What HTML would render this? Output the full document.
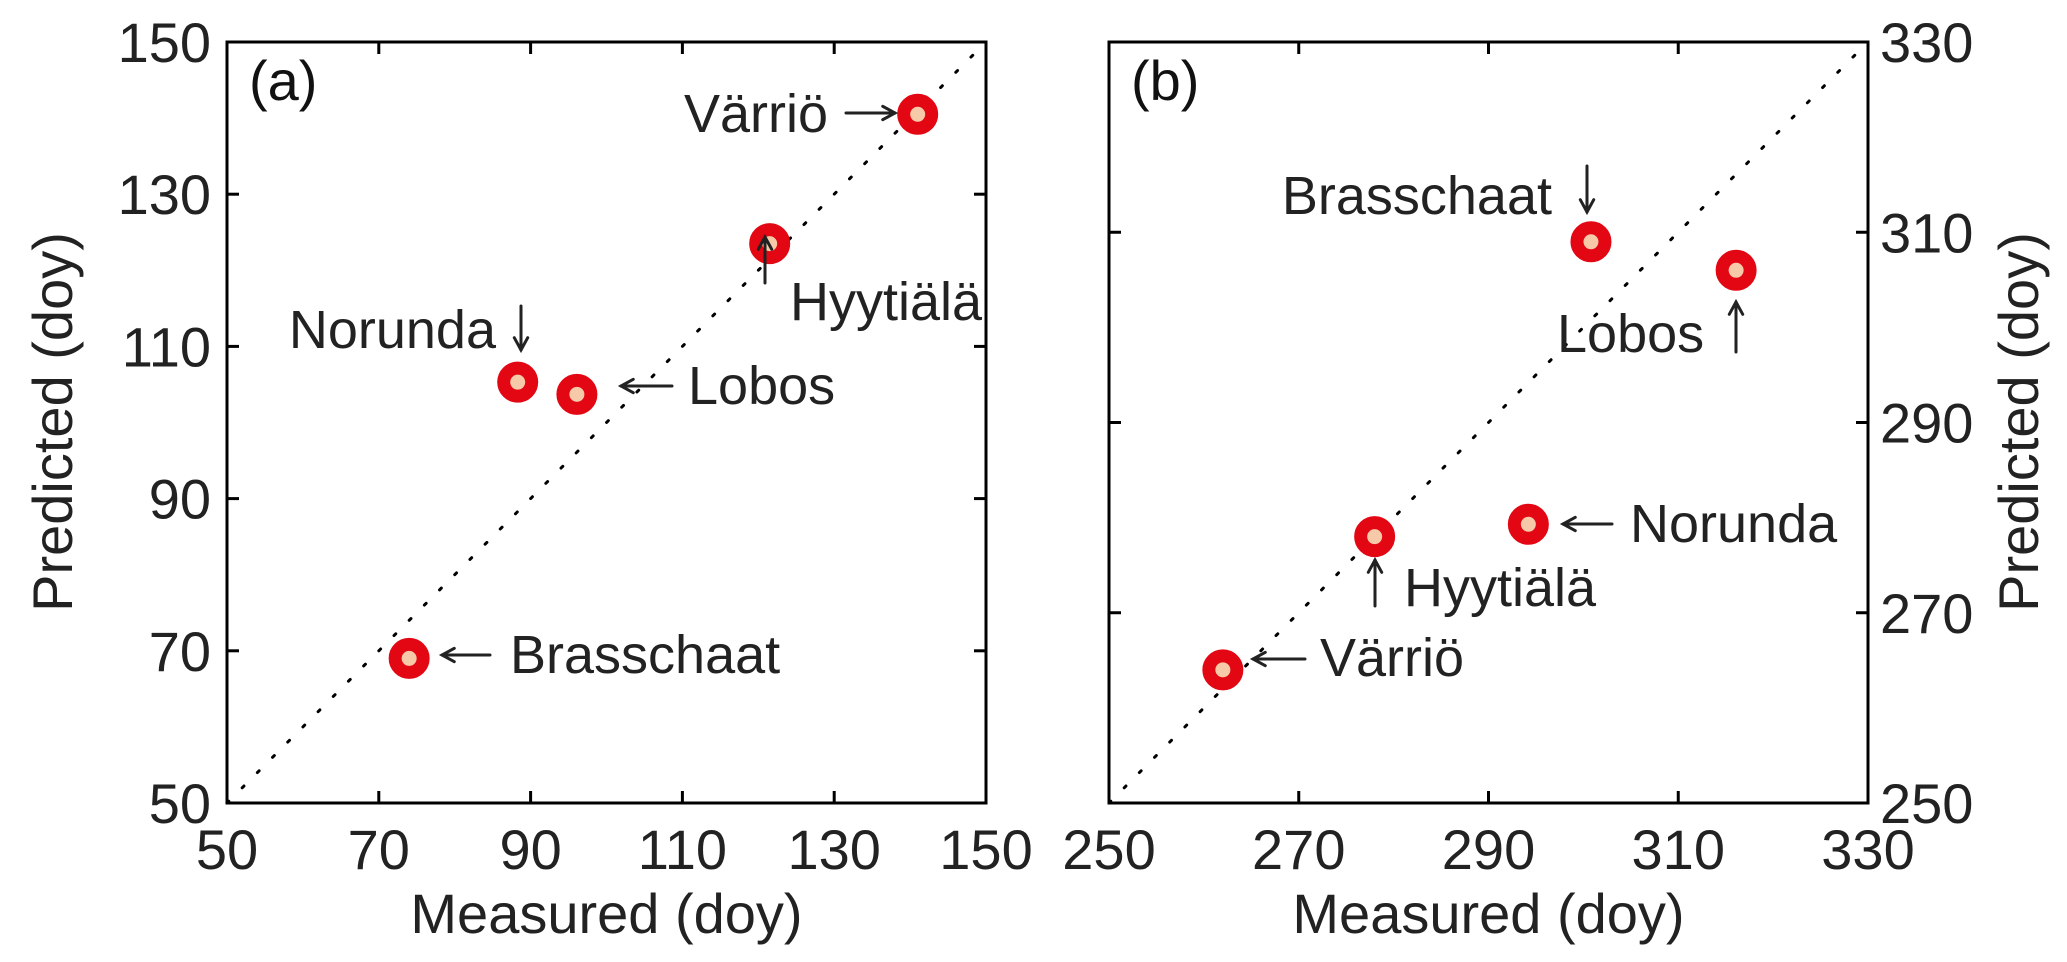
<!DOCTYPE html>
<html><head><meta charset="utf-8"><style>
html,body{margin:0;padding:0;background:#fff;}
svg{display:block;font-family:"Liberation Sans",Arial,sans-serif;}
</style></head><body>
<svg id="chart" width="2067" height="962" viewBox="0 0 2067 962" xmlns="http://www.w3.org/2000/svg"></svg>
<script>
// Panel (a) data
const sitesA = ["Brasschaat","Norunda","Lobos","Hyytiälä","Värriö"];
const measuredA = [74, 88.3, 96.1, 121.5, 141];
const predictedA = [69, 105.3, 103.7, 123.5, 140.5];
const ticksA = [50, 70, 90, 110, 130, 150];
// Panel (b) data
const sitesB = ["Värriö","Hyytiälä","Norunda","Brasschaat","Lobos"];
const measuredB = [262, 278, 294.2, 300.8, 316.1];
const predictedB = [264, 278, 279.3, 309, 306];
const ticksB = [250, 270, 290, 310, 330];

const NS = "http://www.w3.org/2000/svg";
const svg = document.getElementById('chart');
function mk(tag, attrs, parent){ const e=document.createElementNS(NS,tag); for(const k in attrs) e.setAttribute(k,attrs[k]); (parent||svg).appendChild(e); return e; }

function arrow(g, x1, y1, x2, y2){
  const a = mk('g',{stroke:'#222','stroke-width':3,fill:'none','stroke-linecap':'round'},g);
  
  
  mk('line',{x1:x1,y1:y1,x2:x2,y2:y2},a);
  const ang = Math.atan2(y2-y1, x2-x1), L = 14, s = 0.5;
  mk('polyline',{points:`${x2-L*Math.cos(ang-s)},${y2-L*Math.sin(ang-s)} ${x2},${y2} ${x2-L*Math.cos(ang+s)},${y2-L*Math.sin(ang+s)}`},a);
}

function panel(cfg){
  const g = mk('g',{});
  
  
  const X = v => cfg.x0 + (v-cfg.min)/(cfg.max-cfg.min)*(cfg.x1-cfg.x0);
  const Y = v => cfg.y1 - (v-cfg.min)/(cfg.max-cfg.min)*(cfg.y1-cfg.y0);
  const dl = mk('line',{x1:X(cfg.min),y1:Y(cfg.min),x2:X(cfg.max),y2:Y(cfg.max),stroke:'#000','stroke-width':3,'stroke-dasharray':'2.5 19','stroke-linecap':'round'},g);
  
  
  const fr = mk('rect',{x:cfg.x0,y:cfg.y0,width:cfg.x1-cfg.x0,height:cfg.y1-cfg.y0,fill:'none',stroke:'#000','stroke-width':3},g);
  
  
  const T = 12;
  cfg.ticks.forEach(t=>{
    const x=X(t), y=Y(t);
    mk('line',{x1:x,y1:cfg.y1,x2:x,y2:cfg.y1-T,stroke:'#000','stroke-width':3},g);
    mk('line',{x1:x,y1:cfg.y0,x2:x,y2:cfg.y0+T,stroke:'#000','stroke-width':3},g);
    mk('line',{x1:cfg.x0,y1:y,x2:cfg.x0+T,y2:y,stroke:'#000','stroke-width':3},g);
    mk('line',{x1:cfg.x1,y1:y,x2:cfg.x1-T,y2:y,stroke:'#000','stroke-width':3},g);
    const xl = mk('text',{x:x,y:cfg.y1+66,'font-size':56,'text-anchor':'middle',fill:'#222'},g);
    xl.textContent = t;
    
    
    const yl = mk('text',{x:cfg.right?cfg.x1+12:cfg.x0-16,y:y+20,'font-size':56,'text-anchor':cfg.right?'start':'end',fill:'#222'},g);
    yl.textContent = t;
    
    
  });
  cfg.mx.forEach((m,i)=>{
    const c = mk('circle',{cx:X(m),cy:Y(cfg.py[i]),r:14,fill:'#f6c9a8',stroke:'#e30613','stroke-width':13},g);
    
    
  });
  cfg.ann.forEach(a=>{
    const t = mk('text',{x:a[1],y:a[2],'font-size':54,'text-anchor':a[3]||'start',fill:'#222'},g);
    t.textContent = a[0];
    
    
  });
  cfg.arrows.forEach(a=>arrow(g,a[0],a[1],a[2],a[3]));
  const pl = mk('text',{x:cfg.x0+22,y:cfg.y0+58,'font-size':56,fill:'#111'},g);
  pl.textContent = cfg.label;
  
  
  const xt = mk('text',{x:(cfg.x0+cfg.x1)/2,y:933,'font-size':56,'text-anchor':'middle',fill:'#222'},g);
  xt.textContent = 'Measured (doy)';
  
  
  const yx = cfg.right ? 2038 : 72;
  const yt = mk('text',{x:yx,y:422,'font-size':56,'text-anchor':'middle',fill:'#222',transform:`rotate(-90 ${yx} 422)`},g);
  yt.textContent = 'Predicted (doy)';
  
  
}

panel({name:'panel-a',x0:227,x1:986,y0:42,y1:803,min:50,max:150,ticks:ticksA,mx:measuredA,py:predictedA,sites:sitesA,label:'(a)',right:false,
  ann:[["Värriö",828,132,'end'],["Hyytiälä",790,320],["Norunda",496,348,'end'],["Lobos",688,404],["Brasschaat",510,673]],
  arrows:[[846,113,895,113],[765,283,765,237],[521,306,521,350],[672,386,621,386],[490,655,442,655]]});
panel({name:'panel-b',x0:1109,x1:1868,y0:42,y1:803,min:250,max:330,ticks:ticksB,mx:measuredB,py:predictedB,sites:sitesB,label:'(b)',right:true,
  ann:[["Brasschaat",1552,214,'end'],["Lobos",1557,352],["Norunda",1630,542],["Hyytiälä",1404,606],["Värriö",1320,676]],
  arrows:[[1587,166,1587,212],[1736,352,1736,302],[1612,524,1563,524],[1375,606,1375,560],[1305,659,1253,659]]});
</script>
</body></html>
